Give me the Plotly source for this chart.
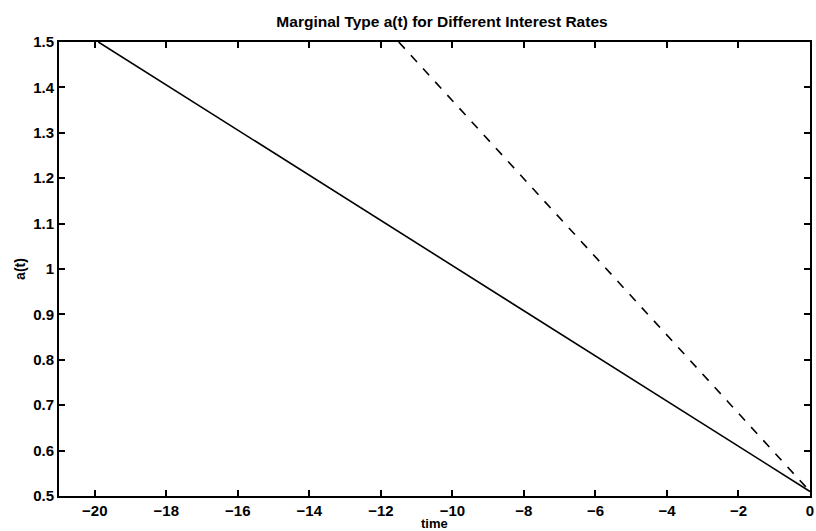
import plotly.graph_objects as go

# Data
solid_t = [-19.9, 0.0]
solid_a = [1.5, 0.51]
dashed_t = [-11.5, 0.0]
dashed_a = [1.5, 0.51]

x_ticks = [-20, -18, -16, -14, -12, -10, -8, -6, -4, -2, 0]
y_ticks = [0.5, 0.6, 0.7, 0.8, 0.9, 1.0, 1.1, 1.2, 1.3, 1.4, 1.5]
y_ticklabels = ["0.5", "0.6", "0.7", "0.8", "0.9", "1", "1.1", "1.2", "1.3", "1.4", "1.5"]

title_text = "Marginal Type a(t) for Different Interest Rates"
x_title = "time"
y_title = "a(t)"

font_family = "Liberation Sans, Arial, sans-serif"

fig = go.Figure()
fig.add_trace(go.Scatter(x=solid_t, y=solid_a, mode="lines",
                         line=dict(color="black", width=1.6, dash="solid"),
                         showlegend=False))
fig.add_trace(go.Scatter(x=dashed_t, y=dashed_a, mode="lines",
                         line=dict(color="black", width=1.6, dash="dash"),
                         showlegend=False))

fig.update_layout(
    width=816, height=531,
    margin=dict(l=59, r=2, t=42, b=35),
    paper_bgcolor="white", plot_bgcolor="white",
    font=dict(family=font_family, color="black"),
    title=dict(text="<b>" + title_text + "</b>", x=442 / 816, xanchor="center",
               y=1 - 22 / 531, yanchor="middle",
               font=dict(size=15.5, family=font_family, color="black")),
    annotations=[dict(text="<b>" + x_title + "</b>", xref="paper", yref="paper",
                      x=0.5, y=-18 / 454, xanchor="center", yanchor="top",
                      showarrow=False,
                      font=dict(size=13, family=font_family, color="black"))],
)

fig.update_xaxes(
    range=[-21, 0], tickmode="array", tickvals=x_ticks,
    ticks="inside", ticklen=6, tickwidth=1.5, tickcolor="black",
    showline=True, linecolor="black", linewidth=1.8, mirror="ticks",
    showgrid=False, zeroline=False, ticklabeloverflow="allow",
    tickfont=dict(size=15, family=font_family, color="black", weight="bold"),
)
fig.update_yaxes(
    range=[0.5, 1.5], tickmode="array", tickvals=y_ticks, ticktext=y_ticklabels,
    ticks="inside", ticklen=6, tickwidth=1.5, tickcolor="black",
    showline=True, linecolor="black", linewidth=1.8, mirror="ticks",
    showgrid=False, zeroline=False,
    tickfont=dict(size=15, family=font_family, color="black", weight="bold"),
    title=dict(text="<b>" + y_title + "</b>", standoff=4,
               font=dict(size=14, family=font_family, color="black")),
)

fig.write_html("out.html")
